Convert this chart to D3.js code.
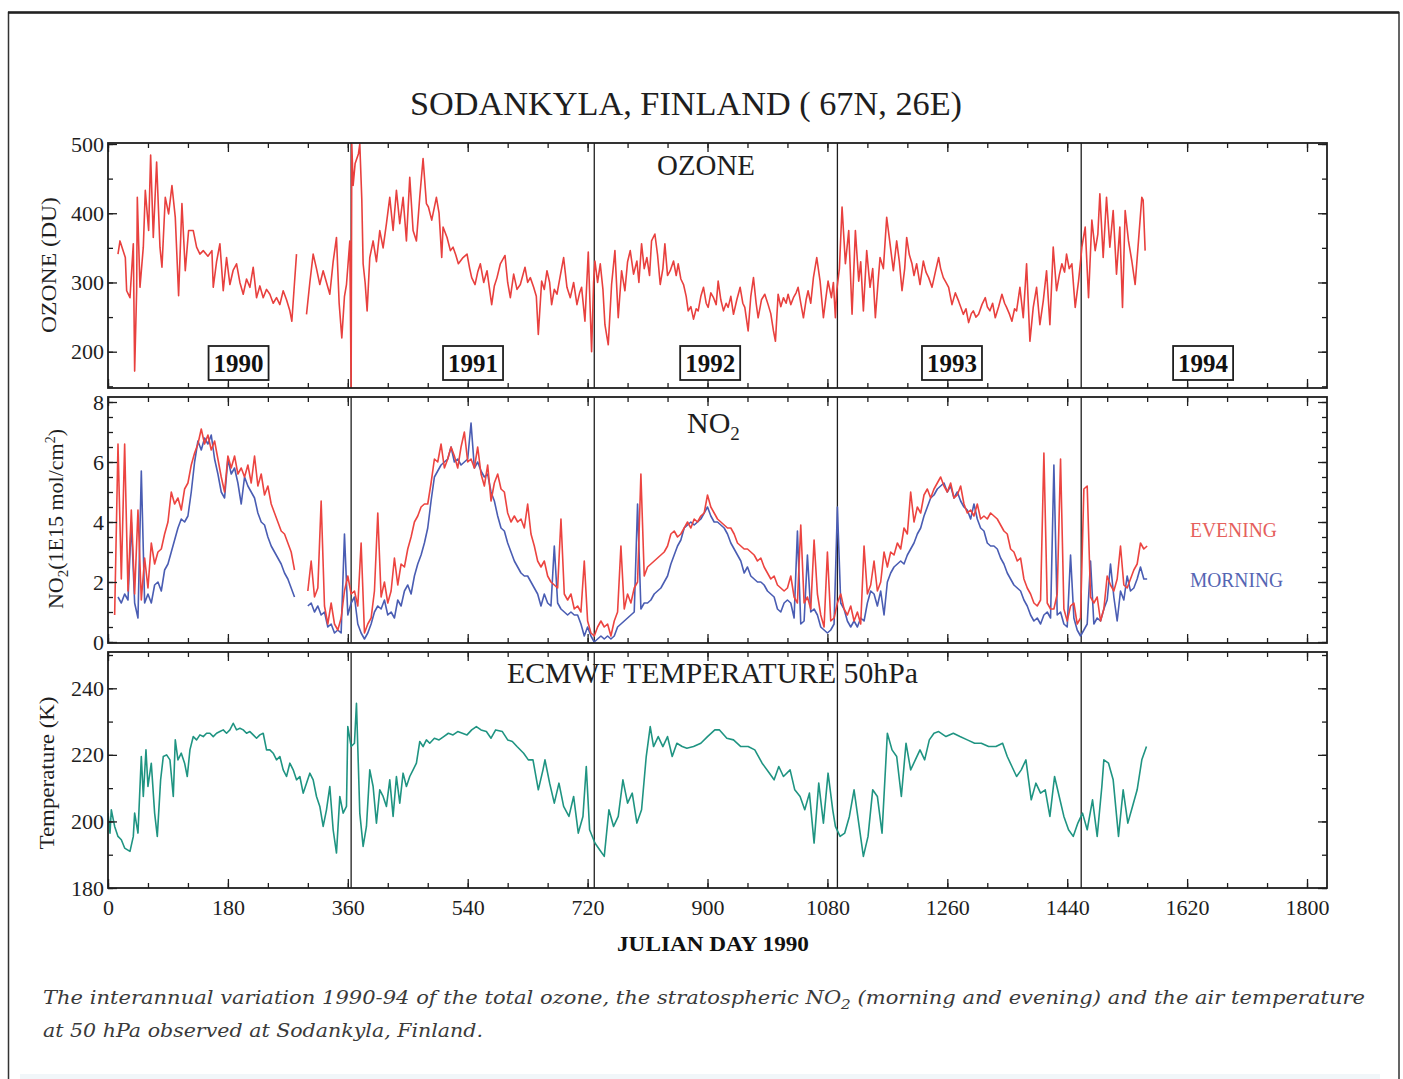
<!DOCTYPE html>
<html>
<head>
<meta charset="utf-8">
<script src="https://cdn.jsdelivr.net/npm/d3@7"></script>
<style>
  body { margin: 0; background: #fff; }
  svg { display: block; }
</style>
</head>
<body>
<div id="chart"></div>
<script>
const width = 1403, height = 1079;

// ---- data ----
const dayTicks = d3.range(0, 1801, 180);
const yearStartDays = [365, 730, 1095, 1461];
const yearLabels = ['1990', '1991', '1992', '1993', '1994'];
const yearLabelDays = [196, 548, 904, 1267, 1644];

const ozoneTicks = [200, 300, 400, 500];
const no2Ticks = [0, 2, 4, 6, 8];
const tempTicks = [180, 200, 220, 240];

// total ozone [julian day, DU]; null marks the gap in autumn 1990
const ozone = [
  [15,341],[18,360],[26,336],[28,288],[33,278],[38,356],[40,172],[43,288],[44,423],[48,293],[53,351],[56,433],[61,375],[64,484],[68,365],[73,474],[78,351],[81,322],[86,423],[91,399],[96,440],[101,394],[106,281],[111,414],[116,317],[121,375],[128,375],[133,351],[138,341],[143,346],[150,338],[156,346],[158,293],[163,330],[168,356],[173,288],[178,336],[183,297],[188,318],[193,327],[198,300],[203,283],[208,305],[213,293],[218,322],[223,278],[228,295],[233,278],[238,290],[243,283],[248,270],[253,278],[258,268],[263,288],[268,275],[273,259],[276,244],[280,300],[283,341],[290,null],
  [298,254],[303,300],[308,341],[313,320],[318,297],[323,317],[328,300],[333,283],[338,330],[343,365],[347,270],[351,220],[355,280],[358,297],[363,360],[365,146],[366,500],[368,440],[371,472],[376,486],[378,500],[381,420],[383,327],[386,300],[389,259],[393,336],[398,360],[403,330],[408,375],[413,350],[418,385],[423,423],[428,375],[433,433],[438,385],[443,423],[448,360],[453,452],[458,375],[463,360],[468,423],[473,479],[478,414],[481,409],[486,390],[493,423],[497,400],[501,336],[503,380],[509,365],[514,346],[518,351],[522,340],[526,327],[533,336],[539,341],[543,320],[546,307],[551,297],[555,315],[559,327],[564,300],[569,317],[576,268],[580,295],[584,307],[589,327],[596,339],[600,300],[604,278],[609,312],[614,290],[619,297],[626,322],[630,300],[634,307],[639,293],[643,280],[646,225],[651,302],[655,290],[659,317],[663,300],[666,268],[670,290],[674,283],[679,310],[684,336],[689,293],[694,278],[699,300],[704,268],[708,285],[711,293],[716,244],[721,344],[726,200],
  [729,300],[731,331],[735,300],[739,327],[743,290],[746,239],[751,210],[756,297],[761,346],[766,249],[771,317],[776,288],[780,330],[784,346],[789,312],[794,331],[797,300],[801,356],[805,320],[809,336],[813,310],[816,360],[821,370],[825,340],[829,297],[833,320],[836,356],[840,310],[844,317],[849,331],[853,310],[856,327],[860,305],[864,297],[868,280],[871,259],[875,265],[879,247],[883,262],[886,259],[890,280],[894,293],[898,270],[901,264],[905,285],[909,278],[913,268],[916,302],[920,275],[924,259],[928,270],[931,264],[935,280],[939,254],[944,275],[949,293],[953,270],[956,264],[961,230],[965,280],[969,307],[973,270],[976,249],[981,275],[986,283],[991,268],[995,255],[999,230],[1002,215],[1006,283],[1010,265],[1014,278],[1018,270],[1021,283],[1025,268],[1029,278],[1033,285],[1036,293],[1040,270],[1044,249],[1048,275],[1051,288],[1055,270],[1059,307],[1064,336],[1069,302],[1074,249],[1078,280],[1081,302],[1086,278],[1089,300],[1092,249],
  [1094,288],[1098,320],[1102,409],[1107,327],[1112,375],[1117,254],[1122,375],[1127,302],[1130,330],[1134,259],[1139,346],[1144,293],[1148,320],[1152,249],[1156,300],[1159,336],[1164,320],[1169,394],[1174,356],[1179,317],[1184,360],[1188,330],[1192,288],[1196,320],[1199,365],[1203,340],[1207,327],[1210,310],[1214,327],[1219,297],[1224,331],[1228,315],[1232,307],[1237,293],[1242,315],[1247,336],[1250,320],[1254,307],[1258,300],[1262,293],[1267,268],[1272,285],[1277,273],[1280,265],[1284,254],[1288,262],[1292,242],[1296,255],[1299,259],[1303,250],[1307,254],[1312,268],[1317,278],[1320,265],[1324,259],[1328,270],[1332,249],[1337,265],[1342,283],[1346,270],[1349,264],[1353,255],[1357,244],[1361,262],[1364,259],[1369,293],[1374,249],[1379,327],[1384,215],[1389,264],[1394,293],[1399,239],[1404,273],[1409,317],[1414,239],[1419,351],[1424,288],[1428,310],[1432,327],[1436,315],[1439,341],[1443,320],[1447,327],[1452,264],[1457,302],
  [1460,330],[1462,351],[1467,380],[1472,278],[1477,390],[1482,346],[1486,370],[1489,428],[1494,336],[1499,423],[1504,351],[1509,404],[1514,312],[1519,380],[1523,264],[1527,404],[1532,360],[1537,331],[1542,297],[1547,360],[1552,423],[1554,419],[1557,346]
];

// NO2 columns (1E15 mol/cm2), one value every 5 days from day 10
const no2FirstDay = 10, no2Step = 5;
const no2Evening = [
  0.9,6.6,2.1,6.6,1.7,4.4,1.6,4.4,1.4,2.8,1.8,3.3,2.6,3.0,3.1,3.6,4.0,5.0,4.6,4.8,
  4.4,5.1,5.3,5.9,6.3,6.6,7.1,6.6,6.9,6.4,6.7,6.1,5.5,5.0,6.2,5.8,6.2,5.6,5.8,5.5,
  5.9,5.3,6.2,5.2,5.6,4.9,5.2,4.6,4.3,4.0,3.7,3.6,3.3,3.0,2.4,null,null,null,1.7,2.7,
  1.5,1.8,4.7,1.2,0.6,1.3,0.6,0.4,0.8,1.7,2.2,1.6,1.7,1.2,3.3,0.3,0.6,0.8,1.7,4.3,
  1.5,2.0,1.3,1.7,2.8,1.9,2.6,2.5,3.1,3.5,4.0,4.2,4.5,4.6,4.6,5.3,6.1,6.0,6.6,5.8,
  6.1,6.5,6.2,5.8,6.5,7.0,6.0,6.1,5.8,6.5,5.6,5.2,5.9,4.7,5.3,5.6,5.1,5.0,4.3,4.0,
  4.2,4.0,4.1,3.8,4.6,3.6,3.2,2.7,2.5,2.7,2.2,2.0,1.9,1.8,4.1,1.6,1.4,1.6,1.1,1.2,
  1.0,2.7,0.7,0.3,0.2,0.5,0.7,0.5,0.6,0.2,0.7,1.0,3.2,1.1,1.6,1.3,1.8,2.0,5.6,2.2,
  2.5,2.6,2.7,2.8,2.9,3.0,3.2,3.6,3.7,3.5,3.6,3.8,4.0,3.8,4.1,4.0,4.2,4.3,4.9,4.5,
  4.3,4.1,4.0,3.9,3.8,3.8,3.6,3.3,3.2,3.1,3.1,3.0,2.9,2.7,2.8,2.5,2.3,2.1,2.2,1.9,
  1.8,1.7,1.8,2.2,1.5,1.3,3.9,1.3,1.5,1.1,3.4,1.6,0.9,0.5,3.0,0.7,0.8,1.3,1.6,1.1,
  0.9,1.2,0.7,1.0,0.6,3.2,1.6,1.9,2.7,1.7,2.0,3.0,2.5,3.0,2.9,3.3,3.1,3.8,3.6,5.0,
  4.0,4.5,4.3,4.9,5.1,4.8,5.1,5.3,5.5,5.2,5.0,5.3,4.8,4.9,5.2,4.6,4.3,4.4,4.2,4.6,
  4.1,4.2,4.1,4.3,4.2,4.1,3.9,3.7,3.6,3.1,3.0,2.7,2.8,2.1,1.8,1.6,1.3,1.2,1.4,6.3,
  1.3,1.1,1.1,1.6,6.1,1.1,0.7,1.2,1.3,0.6,0.8,5.1,5.2,1.5,1.3,1.5,0.7,1.1,2.2,1.9,
  1.7,2.1,3.2,1.9,1.8,2.1,2.4,2.6,3.3,3.1,3.2
];
const no2Morning = [
  null,1.5,1.3,1.6,1.4,4.0,1.3,0.8,5.7,1.3,1.6,1.3,1.9,2.0,1.7,2.4,2.6,3.0,3.4,3.8,
  4.1,4.0,4.2,5.0,6.0,6.7,6.4,6.8,6.6,6.9,6.1,5.6,5.0,4.8,6.1,5.6,5.8,5.3,4.6,5.5,
  5.2,5.0,4.8,4.3,4.0,3.9,3.5,3.2,3.0,2.8,2.6,2.3,2.1,1.8,1.5,null,null,null,1.2,1.3,
  1.0,1.2,0.9,1.0,0.5,0.6,0.3,0.4,0.3,3.6,0.9,1.3,1.5,0.6,0.3,0.1,0.3,0.6,1.0,1.2,
  1.1,1.4,0.9,1.0,0.8,1.4,1.2,1.7,1.9,1.6,2.2,2.6,2.9,3.3,3.8,4.7,5.5,5.7,5.9,6.0,
  6.1,6.5,6.0,6.1,5.9,6.0,6.1,7.3,5.8,6.0,5.7,5.5,5.6,5.0,4.7,4.2,3.8,3.7,3.3,3.0,
  2.7,2.5,2.3,2.2,2.2,2.0,1.8,1.6,1.2,1.6,1.3,1.2,3.2,1.3,1.1,1.0,0.9,1.0,0.9,0.9,
  0.6,0.2,0.5,0.2,0.0,0.1,0.2,0.1,0.2,0.1,0.2,0.5,0.6,0.7,0.8,0.9,1.0,4.6,1.1,1.3,
  1.3,1.4,1.6,1.7,1.8,2.0,2.2,2.6,2.9,3.2,3.4,3.8,3.9,4.0,3.9,4.0,4.1,4.3,4.5,4.2,
  4.0,4.0,3.9,3.8,3.6,3.3,3.1,2.9,2.7,2.3,2.5,2.2,2.1,2.0,2.0,1.9,1.7,1.6,1.5,1.1,
  1.0,1.3,1.4,1.3,0.8,3.7,0.6,0.7,2.9,1.0,1.1,0.9,0.5,0.4,0.3,0.4,0.6,4.5,1.3,1.1,
  0.7,0.5,0.7,0.5,0.8,0.7,1.3,1.7,1.6,1.2,1.7,0.9,2.0,2.3,2.5,2.6,2.7,2.6,2.9,3.1,
  3.3,3.6,3.8,4.2,4.5,4.8,4.9,5.1,5.2,5.3,5.0,5.2,4.8,5.0,4.7,4.5,4.4,4.1,4.6,4.1,
  3.8,3.7,3.3,3.2,3.2,3.1,2.8,2.6,2.3,2.1,1.9,1.8,1.7,1.4,1.2,0.9,0.7,0.8,0.6,0.9,
  1.0,0.8,5.9,0.9,1.0,0.6,0.5,2.9,0.8,0.4,0.2,0.4,0.6,2.7,0.6,0.8,0.7,1.1,1.4,2.6,
  1.5,0.7,1.7,1.4,2.2,1.7,1.8,2.1,2.5,2.1,2.1
];

// ECMWF temperature at 50 hPa [julian day, K]
const temperature = [
  [0,202.5],[3,196.5],[5,203.5],[10,198.5],[15,195.5],[20,194.5],[25,192],[33,191],[38,195.5],[40,202.5],[45,196.5],[50,219.5],[53,207.5],[57,221.5],[60,210.5],[65,217.5],[70,202.5],[74,195.5],[79,212.5],[83,219.5],[88,220],[93,218.5],[98,207.5],[101,224.5],[105,218.5],[110,220.5],[115,217.5],[119,213.5],[123,221.5],[128,225.5],[133,224.5],[138,226],[143,225.5],[148,226.5],[153,226.5],[158,225.5],[163,226.5],[168,227],[173,227.5],[178,226.5],[183,227.5],[188,229.5],[193,227.5],[198,228],[203,227.5],[208,226.5],[213,227],[218,226],[223,225],[228,226],[233,226.5],[238,221.5],[243,221.5],[248,220.5],[253,218.5],[258,219.5],[263,215.5],[268,213.5],[273,217.5],[278,215.5],[283,212.5],[288,213.5],[293,208.5],[298,211.5],[303,214.5],[308,212.5],[313,207.5],[318,204.5],[323,198.5],[328,203.5],[333,210.5],[338,197.5],[343,190.5],[348,207.5],[353,202.5],[358,204.5],
  [360,228.5],[365,222.5],[370,223.5],[373,235.5],[378,202.5],[383,192.5],[388,198.5],[393,215.5],[398,210.5],[403,199.5],[408,209.5],[413,207.5],[418,204.5],[423,212.5],[428,201.5],[433,213.5],[438,205.5],[443,214.5],[448,210.5],[453,213.5],[458,215.5],[463,217.5],[468,224],[473,222.5],[478,224.5],[483,223.5],[490,225],[497,224.5],[504,225.5],[511,226.5],[518,226],[525,227],[532,226.5],[539,226],[546,227.5],[553,228.5],[560,227.5],[568,227],[575,225],[582,227.5],[592,227],[600,224.5],[607,224],[614,222.5],[624,220.5],[631,218.5],[638,218.5],[646,209.5],[653,215.5],[656,218.5],[663,211.5],[670,205.5],[677,211.5],[684,204.5],[692,201.5],[699,207.5],[706,196.5],[713,201.5],[718,216.5],[723,197.5],
  [731,193.5],[738,191.5],[745,189.5],[752,203.5],[759,198.5],[766,201.5],[773,212.5],[780,205.5],[787,208.5],[794,199.5],[801,203.5],[808,219.5],[814,228.5],[819,222.5],[826,225.5],[833,222.5],[840,225.5],[847,219.5],[854,223.5],[862,222.5],[869,222],[879,222.5],[890,223.5],[900,225.5],[911,227.5],[918,227.5],[929,225],[939,224.5],[950,222.5],[961,222.5],[971,221.5],[982,217.5],[993,214.5],[1000,212.5],[1007,216.5],[1014,213.5],[1024,215.5],[1031,209.5],[1039,207.5],[1046,203.5],[1053,208.5],[1060,193.5],[1067,211.5],[1074,199.5],[1081,214.5],[1088,203.5],
  [1092,198.5],[1099,195.5],[1106,196.5],[1113,201.5],[1120,209.5],[1127,199.5],[1134,189.5],[1141,195.5],[1148,209.5],[1155,207.5],[1162,196.5],[1170,226.5],[1177,221.5],[1184,219.5],[1191,207.5],[1198,223.5],[1205,215.5],[1212,218.5],[1219,221.5],[1226,218.5],[1233,224.5],[1240,226.5],[1247,227],[1258,225.5],[1269,226.5],[1279,225.5],[1290,224.5],[1301,223.5],[1311,223.5],[1322,222.5],[1333,222.5],[1343,223.5],[1350,219.5],[1357,216.5],[1364,213.5],[1371,215.5],[1378,218.5],[1386,206.5],[1393,211.5],[1400,208.5],[1407,209.5],[1414,201.5],[1421,213.5],[1428,207.5],[1435,201.5],[1442,197.5],[1449,195.5],[1456,199.5],
  [1463,202.5],[1470,197.5],[1478,206.5],[1485,195.5],[1492,210.5],[1495,218.5],[1502,217.5],[1509,212.5],[1517,195.5],[1524,209.5],[1531,199.5],[1538,204.5],[1545,209.5],[1552,218.5],[1559,222.5]
];

// ---- drawing ----
const serif = '"Liberation Serif", "Times New Roman", serif';
const ink = '#1e1e1e';

const svg = d3.select('#chart').append('svg')
  .attr('width', width).attr('height', height)
  .attr('viewBox', [0, 0, width, height]);

const x = d3.scaleLinear().domain([0, 1830]).range([108, 1327]);

// outer page frame
svg.append('rect').attr('x', 20).attr('y', 1074).attr('width', 1360).attr('height', 5).attr('fill', '#f1f6f9');
svg.append('path')
  .attr('d', 'M8.5,1079 V12.5 H1399 V1079')
  .attr('fill', 'none').attr('stroke', '#333').attr('stroke-width', 1.5);
svg.append('line').attr('x1', 8).attr('x2', 1399).attr('y1', 12.5).attr('y2', 12.5)
  .attr('stroke', '#222').attr('stroke-width', 2.5);

svg.append('text')
  .attr('x', 686).attr('y', 115)
  .attr('text-anchor', 'middle')
  .attr('font-family', serif).attr('font-size', 34).attr('fill', ink)
  .attr('textLength', 552).attr('lengthAdjust', 'spacingAndGlyphs')
  .text('SODANKYLA, FINLAND ( 67N, 26E)');

const panels = [
  {name: 'ozone', top: 143, bottom: 388, y: d3.scaleLinear().domain([200, 500]).range([351.7, 144]),
   ticks: ozoneTicks, minor: d3.range(150, 501, 50)},
  {name: 'no2', top: 397, bottom: 643, y: d3.scaleLinear().domain([0, 8]).range([642, 402]),
   ticks: no2Ticks, minor: d3.range(0, 8.01, 0.5)},
  {name: 'temp', top: 652, bottom: 888, y: d3.scaleLinear().domain([180, 240]).range([888, 688.3]),
   ticks: tempTicks, minor: d3.range(180, 251, 10)}
];

const minorDays = d3.range(0, 1830, 60);

function styleAxis(g) {
  g.select('.domain').remove();
  g.attr('font-family', serif).attr('font-size', 22).attr('color', ink);
  g.selectAll('line').attr('stroke-width', 1.3);
}

panels.forEach((p, i) => {
  const g = svg.append('g');
  const [x0, x1] = x.range();

  svg.append('clipPath').attr('id', 'clip-' + p.name)
    .append('rect').attr('x', x0).attr('y', p.top).attr('width', x1 - x0).attr('height', p.bottom - p.top);

  // year separators
  g.selectAll('line.year').data(yearStartDays).join('line')
    .attr('class', 'year')
    .attr('x1', d => x(d)).attr('x2', d => x(d))
    .attr('y1', p.top).attr('y2', p.bottom)
    .attr('stroke', ink).attr('stroke-width', 1.3);

  p.g = g.append('g').attr('clip-path', `url(#clip-${p.name})`);

  // ticks, inward on all four sides
  const showLabels = i === panels.length - 1;
  g.append('g').attr('transform', `translate(0,${p.bottom})`)
    .call(d3.axisBottom(x).tickValues(dayTicks).tickSize(-9).tickPadding(11)
      .tickFormat(showLabels ? d3.format('d') : ''))
    .call(styleAxis);
  g.append('g').attr('transform', `translate(0,${p.bottom})`)
    .call(d3.axisBottom(x).tickValues(minorDays).tickSize(-5).tickFormat(''))
    .call(styleAxis);
  g.append('g').attr('transform', `translate(0,${p.top})`)
    .call(d3.axisTop(x).tickValues(dayTicks).tickSize(-9).tickFormat(''))
    .call(styleAxis);
  g.append('g').attr('transform', `translate(0,${p.top})`)
    .call(d3.axisTop(x).tickValues(minorDays).tickSize(-5).tickFormat(''))
    .call(styleAxis);

  const inFrame = v => p.y(v) >= p.top - 0.5 && p.y(v) <= p.bottom + 0.5;
  g.append('g').attr('transform', `translate(${x0},0)`)
    .call(d3.axisLeft(p.y).tickValues(p.ticks).tickSize(-9).tickPadding(4))
    .call(styleAxis);
  g.append('g').attr('transform', `translate(${x0},0)`)
    .call(d3.axisLeft(p.y).tickValues(p.minor.filter(inFrame)).tickSize(-5).tickFormat(''))
    .call(styleAxis);
  g.append('g').attr('transform', `translate(${x1},0)`)
    .call(d3.axisRight(p.y).tickValues(p.ticks).tickSize(-9).tickFormat(''))
    .call(styleAxis);
  g.append('g').attr('transform', `translate(${x1},0)`)
    .call(d3.axisRight(p.y).tickValues(p.minor.filter(inFrame)).tickSize(-5).tickFormat(''))
    .call(styleAxis);

  g.append('rect')
    .attr('x', x0).attr('y', p.top).attr('width', x1 - x0).attr('height', p.bottom - p.top)
    .attr('fill', 'none').attr('stroke', ink).attr('stroke-width', 1.8);
});

function drawSeries(p, data, color) {
  const line = d3.line()
    .defined(d => d[1] != null)
    .x(d => x(d[0]))
    .y(d => p.y(d[1]));
  p.g.append('path')
    .datum(data)
    .attr('d', line)
    .attr('fill', 'none')
    .attr('stroke', color)
    .attr('stroke-width', 1.6)
    .attr('stroke-linejoin', 'round');
}

const [pOzone, pNo2, pTemp] = panels;
const toPairs = arr => arr.map((v, i) => [no2FirstDay + i * no2Step, v]);

drawSeries(pOzone, ozone, '#e8403e');
drawSeries(pNo2, toPairs(no2Morning), '#4a5db3');
drawSeries(pNo2, toPairs(no2Evening), '#ec4440');
drawSeries(pTemp, temperature, '#1f9482');

// panel titles
svg.append('text').attr('x', 706).attr('y', 175).attr('text-anchor', 'middle')
  .attr('font-family', serif).attr('font-size', 29).attr('fill', ink)
  .attr('textLength', 98).attr('lengthAdjust', 'spacingAndGlyphs')
  .text('OZONE');

const no2Title = svg.append('text').attr('x', 687).attr('y', 433)
  .attr('font-family', serif).attr('font-size', 30).attr('fill', ink);
no2Title.append('tspan').text('NO');
no2Title.append('tspan').attr('dy', 7).attr('font-size', 19).text('2');

svg.append('text').attr('x', 712.5).attr('y', 683).attr('text-anchor', 'middle')
  .attr('font-family', serif).attr('font-size', 29).attr('fill', ink)
  .attr('textLength', 411).attr('lengthAdjust', 'spacingAndGlyphs')
  .text('ECMWF TEMPERATURE 50hPa');

// boxed year labels
yearLabels.forEach((label, i) => {
  const cx = x(yearLabelDays[i]);
  svg.append('rect')
    .attr('x', cx - 30).attr('y', 346).attr('width', 60).attr('height', 34)
    .attr('fill', '#fff').attr('stroke', ink).attr('stroke-width', 1.8);
  svg.append('text')
    .attr('x', cx).attr('y', 371.5).attr('text-anchor', 'middle')
    .attr('font-family', serif).attr('font-weight', 'bold').attr('font-size', 25).attr('fill', '#111')
    .text(label);
});

// legend
svg.append('text').attr('x', 1190).attr('y', 537)
  .attr('font-family', serif).attr('font-size', 20).attr('fill', '#e5605c')
  .attr('textLength', 87).attr('lengthAdjust', 'spacingAndGlyphs')
  .text('EVENING');
svg.append('text').attr('x', 1190).attr('y', 587)
  .attr('font-family', serif).attr('font-size', 20).attr('fill', '#5565b3')
  .attr('textLength', 93).attr('lengthAdjust', 'spacingAndGlyphs')
  .text('MORNING');

// y axis titles (rotated)
svg.append('text')
  .attr('transform', 'translate(56,265) rotate(-90)')
  .attr('text-anchor', 'middle')
  .attr('font-family', serif).attr('font-size', 22).attr('fill', ink)
  .attr('textLength', 136).attr('lengthAdjust', 'spacingAndGlyphs')
  .text('OZONE (DU)');

const no2Label = svg.append('text')
  .attr('transform', 'translate(63,519) rotate(-90)')
  .attr('text-anchor', 'middle')
  .attr('font-family', serif).attr('font-size', 22).attr('fill', ink);
no2Label.append('tspan').text('NO');
no2Label.append('tspan').attr('dy', 5).attr('font-size', 15).text('2');
no2Label.append('tspan').attr('dy', -5).text('(1E15 mol/cm');
no2Label.append('tspan').attr('dy', -8).attr('font-size', 14).text('2');
no2Label.append('tspan').attr('dy', 8).text(')');

svg.append('text')
  .attr('transform', 'translate(54,773) rotate(-90)')
  .attr('text-anchor', 'middle')
  .attr('font-family', serif).attr('font-size', 22).attr('fill', ink)
  .attr('textLength', 153).attr('lengthAdjust', 'spacingAndGlyphs')
  .text('Temperature (K)');

// x axis title
svg.append('text').attr('x', 713).attr('y', 951).attr('text-anchor', 'middle')
  .attr('font-family', serif).attr('font-weight', 'bold').attr('font-size', 22).attr('fill', '#111')
  .attr('textLength', 192).attr('lengthAdjust', 'spacingAndGlyphs')
  .text('JULIAN DAY 1990');

// caption
const capFont = '"DejaVu Serif", serif';
const cap1 = svg.append('text').attr('x', 43).attr('y', 1004)
  .attr('font-family', capFont).attr('font-style', 'italic').attr('font-size', 18).attr('fill', '#3a3a3a')
  .attr('textLength', 1322).attr('lengthAdjust', 'spacingAndGlyphs');
cap1.append('tspan').text('The interannual variation 1990-94 of the total ozone, the stratospheric NO');
cap1.append('tspan').attr('dy', 5).attr('font-size', 13).text('2');
cap1.append('tspan').attr('dy', -5).text(' (morning and evening) and the air temperature');

svg.append('text').attr('x', 43).attr('y', 1037)
  .attr('font-family', capFont).attr('font-style', 'italic').attr('font-size', 18).attr('fill', '#3a3a3a')
  .attr('textLength', 440).attr('lengthAdjust', 'spacingAndGlyphs')
  .text('at 50 hPa observed at Sodankyla, Finland.');
</script>
</body>
</html>
